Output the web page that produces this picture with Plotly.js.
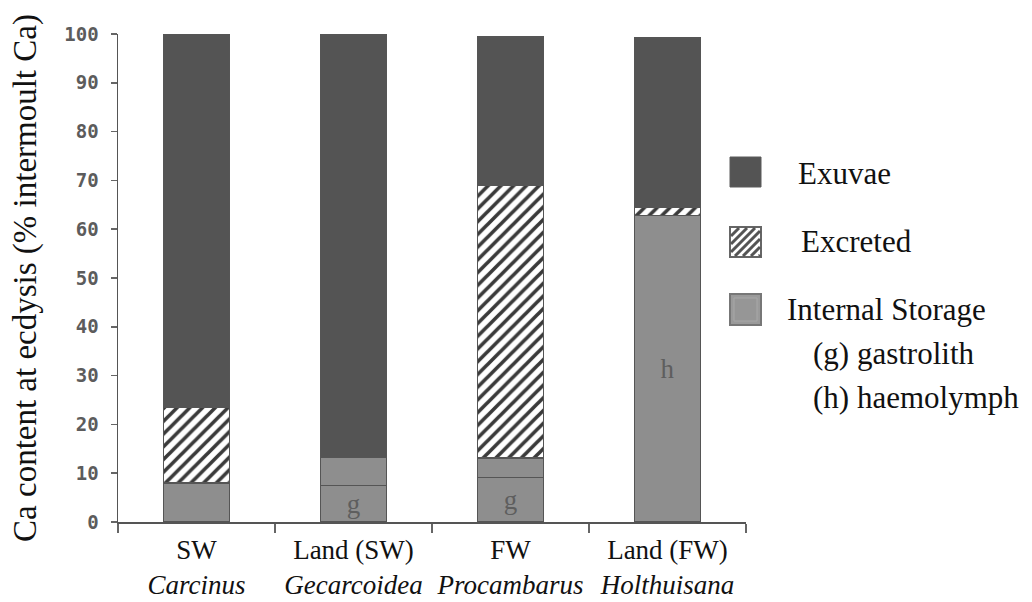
<!DOCTYPE html>
<html>
<head>
<meta charset="utf-8">
<script src="https://cdn.plot.ly/plotly-3.0.1.min.js"></script>
<style>html,body{margin:0;padding:0;background:#fff;}#chart{width:1032px;height:602px;}</style>
</head>
<body>
<div id="chart"></div>
<script>
// ---- data ----
const habitat = ['SW', 'Land (SW)', 'FW', 'Land (FW)'];
const genus = ['Carcinus', 'Gecarcoidea', 'Procambarus', 'Holthuisana'];
const storageMain = [8, 7.5, 9.2, 62.8];        // gastrolith / haemolymph / internal storage
const storageOther = [null, 5.8, 3.9, null];     // remaining internal storage
const excreted = [15.5, null, 55.9, 1.7];
const exuvae = [76.5, 86.5, 30.4, 34.7];
const storageLabels = ['', 'g', 'g', 'h'];
const yTicks = [0, 10, 20, 30, 40, 50, 60, 70, 80, 90, 100];
const legendNames = ['Exuvae', 'Excreted', 'Internal Storage'];
const legendNotes = ['(g) gastrolith', '(h) haemolymph'];

const tickText = habitat.map((h, i) => h + '<br><i>' + genus[i] + '</i>');

const serif = '"Liberation Serif", "Times New Roman", serif';
const cExuvae = '#545454';
const cStorage = '#8e8e8e';
const barLine = {color: '#555', width: 1.2};

const traces = [
  {type: 'bar', x: genus, y: storageMain, name: 'Internal Storage', showlegend: false,
   marker: {color: cStorage, line: barLine},
   text: storageLabels, textposition: 'inside', insidetextanchor: 'middle', textangle: 0,
   constraintext: 'none',
   textfont: {family: serif, size: 27, color: '#5e5e5e'}, hoverinfo: 'skip'},
  {type: 'bar', x: genus, y: storageOther, name: 'Internal Storage (other)', showlegend: false,
   marker: {color: cStorage, line: barLine}, hoverinfo: 'skip'},
  {type: 'bar', x: genus, y: excreted, name: 'Excreted', showlegend: false,
   marker: {color: '#ffffff', line: barLine,
     pattern: {shape: '/', fgcolor: '#3a3a3a', bgcolor: '#ffffff', size: 9, solidity: 0.4, fillmode: 'replace'}},
   hoverinfo: 'skip'},
  {type: 'bar', x: genus, y: exuvae, name: 'Exuvae', showlegend: false,
   marker: {color: cExuvae, line: barLine}, hoverinfo: 'skip'}
];

// plot-area geometry (pixels) for paper-coordinate helpers
const L = 118, R = 746, T = 34, B = 522;
const px = v => (v - L) / (R - L);
const py = v => (B - v) / (B - T);

const shapes = [];
const annotations = [];
// legend swatches
const sw = {x0: 730, x1: 761};
const swY = [[157, 187], [227, 257], [294, 325]];
shapes.push({type: 'rect', xref: 'paper', yref: 'paper', x0: px(sw.x0), x1: px(sw.x1), y0: py(swY[0][1]), y1: py(swY[0][0]),
  fillcolor: cExuvae, line: {color: '#5a5a5a', width: 1}});
shapes.push({type: 'rect', xref: 'paper', yref: 'paper', x0: px(sw.x0), x1: px(sw.x1), y0: py(swY[1][1]), y1: py(swY[1][0]),
  fillcolor: '#ffffff', line: {color: '#666', width: 2}});
(function () {
  const x0 = sw.x0 + 1, x1 = sw.x1 - 1, y0 = swY[1][0] + 1, y1 = swY[1][1] - 1;
  const w = x1 - x0, h = y1 - y0;
  for (let c = -h; c < w; c += 8) {
    const u0 = Math.max(0, -c), u1 = Math.min(h, w - c);
    if (u1 <= u0) continue;
    shapes.push({type: 'line', xref: 'paper', yref: 'paper',
      x0: px(x0 + c + u0), y0: py(y1 - u0), x1: px(x0 + c + u1), y1: py(y1 - u1),
      line: {color: '#555', width: 3}});
  }
})();
shapes.push({type: 'rect', xref: 'paper', yref: 'paper', x0: px(sw.x0), x1: px(sw.x1), y0: py(swY[2][1]), y1: py(swY[2][0]),
  fillcolor: '#9a9a9a', line: {color: '#777', width: 2}});
shapes.push({type: 'rect', xref: 'paper', yref: 'paper', x0: px(sw.x0 + 4), x1: px(sw.x1 - 4), y0: py(swY[2][1] - 4), y1: py(swY[2][0] + 4),
  fillcolor: '#969696', line: {color: '#a8a8a8', width: 1}});

const legPos = [[796, 173], [799, 241], [785, 309]];
legendNames.forEach((t, i) => annotations.push({xref: 'paper', yref: 'paper', x: px(legPos[i][0]), y: py(legPos[i][1]),
  xanchor: 'left', yanchor: 'middle', showarrow: false, text: t, font: {family: serif, size: 31, color: '#111'}}));
const notePos = [[811, 353], [811, 397]];
legendNotes.forEach((t, i) => annotations.push({xref: 'paper', yref: 'paper', x: px(notePos[i][0]), y: py(notePos[i][1]),
  xanchor: 'left', yanchor: 'middle', showarrow: false, text: t, font: {family: serif, size: 31, color: '#111'}}));

const layout = {
  width: 1032, height: 602,
  margin: {l: L, r: 1032 - R, t: T, b: 602 - B, pad: 0},
  paper_bgcolor: '#ffffff', plot_bgcolor: '#ffffff',
  barmode: 'stack', bargap: 0.58,
  showlegend: false,
  font: {family: serif},
  xaxis: {type: 'category', categoryorder: 'array', categoryarray: genus,
    tickmode: 'array', tickvals: genus, ticktext: tickText, tickangle: 0, ticklabelstandoff: 3,
    tickson: 'boundaries', ticks: 'outside', ticklen: 9, tickwidth: 1.5, tickcolor: '#666',
    showline: true, linecolor: '#555', linewidth: 1.5, showgrid: false, zeroline: false,
    tickfont: {family: serif, size: 27, color: '#111'}, automargin: false},
  yaxis: {range: [0, 100], tickmode: 'array', tickvals: yTicks,
    ticks: 'outside', ticklen: 6, tickwidth: 1.5, tickcolor: '#666', ticklabelstandoff: 8,
    showline: true, linecolor: '#555', linewidth: 1.5, showgrid: false, zeroline: false,
    tickfont: {family: '"DejaVu Sans Mono", monospace', size: 19, color: '#5c5c5c', weight: 'bold'},
    title: {text: 'Ca content at ecdysis (% intermoult Ca)', standoff: 18,
      font: {family: serif, size: 33, color: '#111'}},
    automargin: false},
  shapes: shapes,
  annotations: annotations
};

Plotly.newPlot('chart', traces, layout, {displayModeBar: false, staticPlot: true});
</script>
</body>
</html>
